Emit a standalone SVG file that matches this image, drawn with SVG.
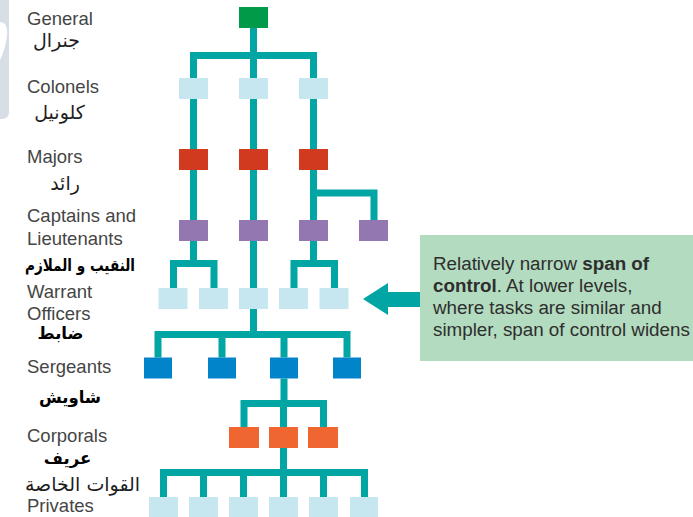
<svg xmlns="http://www.w3.org/2000/svg" width="693" height="517" viewBox="0 0 693 517">
  <style>
    .lbl { font-family: "Liberation Sans", Arial, sans-serif; font-size: 18.5px; fill: #454545; }
    .ar { font-family: "DejaVu Sans", "Noto Sans", sans-serif; font-size: 19px; fill: #1e1e1e; text-anchor: middle; }
    .arb { font-family: "DejaVu Sans", "Noto Sans", sans-serif; font-size: 16.5px; font-weight: bold; fill: #000; text-anchor: middle; }
    .conn { fill: none; stroke: #00a5a4; stroke-width: 7; stroke-linejoin: miter; stroke-linecap: butt; }
    .gen { fill: #009a48; }
    .pale { fill: #c6e7ef; }
    .major { fill: #d23a1f; }
    .capt { fill: #9377b1; }
    .serg { fill: #0284cb; }
    .corp { fill: #ef6630; }
    .note { font-family: "Liberation Sans", Arial, sans-serif; font-size: 18.8px; fill: #2e2e2e; }
  </style>

  <rect width="693" height="517" fill="#ffffff"/>

  <!-- page-edge decoration -->
  <path d="M0,0 H9 V112 Q9,119 2,119 H0 Z" fill="#d8dee5"/>
  <path d="M0,22 Q8,22 7,36 Q5,50 0,60 Z" fill="#ffffff"/>

  <!-- rank labels -->
  <g id="labels">
    <text class="lbl" x="27" y="25">General</text>
    <text class="ar" x="56.5" y="47">جنرال</text>
    <text class="lbl" x="27" y="93">Colonels</text>
    <text class="ar" x="59.5" y="119">كلونيل</text>
    <text class="lbl" x="27" y="163">Majors</text>
    <text class="ar" x="65" y="190">رائد</text>
    <text class="lbl" x="27" y="222">Captains and</text>
    <text class="lbl" x="27" y="245">Lieutenants</text>
    <text class="arb" x="80" y="271" textLength="110" lengthAdjust="spacingAndGlyphs">النقيب و الملازم</text>
    <text class="lbl" x="27" y="298">Warrant</text>
    <text class="lbl" x="27" y="320">Officers</text>
    <text class="arb" x="60.5" y="339">ضابط</text>
    <text class="lbl" x="27" y="373">Sergeants</text>
    <text class="arb" x="70" y="403">شاويش</text>
    <text class="lbl" x="27" y="442">Corporals</text>
    <text class="arb" x="67.5" y="464">عريف</text>
    <text class="ar" x="82.5" y="491">القوات الخاصة</text>
    <text class="lbl" x="27" y="512">Privates</text>
  </g>

  <!-- connectors -->
  <g id="connectors">
    <path class="conn" d="M253.5,28 V78"/>
    <path class="conn" d="M193.5,78 V55.5 H313.5 V78"/>
    <path class="conn" d="M193.5,99 V149 M253.5,99 V149 M313.5,99 V149"/>
    <path class="conn" d="M193.5,170 V220 M253.5,170 V220 M313.5,170 V220"/>
    <path class="conn" d="M313.5,193 H374 V220"/>
    <path class="conn" d="M193.5,241 V263.5 M253.5,241 V288 M313.5,241 V263.5"/>
    <path class="conn" d="M173.5,288 V263.5 H214 V288"/>
    <path class="conn" d="M294,288 V263.5 H334.5 V288"/>
    <path class="conn" d="M253.5,309 V334.5"/>
    <path class="conn" d="M158,357.5 V334.5 H347 V357.5 M222,334.5 V357.5 M284,334.5 V357.5"/>
    <path class="conn" d="M284,378.5 V403.5"/>
    <path class="conn" d="M244,427 V403.5 H323.5 V427 M283.5,403.5 V427"/>
    <path class="conn" d="M283.5,448 V472.5"/>
    <path class="conn" d="M163.5,497 V472.5 H364.5 V497 M203.5,472.5 V497 M243.5,472.5 V497 M283.5,472.5 V497 M323.5,472.5 V497"/>
  </g>

  <!-- rank boxes -->
  <g id="general"><rect class="gen" x="239" y="7" width="29" height="21"/></g>
  <g id="colonels">
    <rect class="pale" x="179" y="78" width="29" height="21"/>
    <rect class="pale" x="239" y="78" width="29" height="21"/>
    <rect class="pale" x="299" y="78" width="29" height="21"/>
  </g>
  <g id="majors">
    <rect class="major" x="179" y="149" width="29" height="21"/>
    <rect class="major" x="239" y="149" width="29" height="21"/>
    <rect class="major" x="299" y="149" width="29" height="21"/>
  </g>
  <g id="captains">
    <rect class="capt" x="179" y="220" width="29" height="21"/>
    <rect class="capt" x="239" y="220" width="29" height="21"/>
    <rect class="capt" x="299" y="220" width="29" height="21"/>
    <rect class="capt" x="359" y="220" width="29" height="21"/>
  </g>
  <g id="warrant-officers">
    <rect class="pale" x="158.5" y="288" width="29" height="21"/>
    <rect class="pale" x="199" y="288" width="29" height="21"/>
    <rect class="pale" x="239" y="288" width="29" height="21"/>
    <rect class="pale" x="279" y="288" width="29" height="21"/>
    <rect class="pale" x="319.5" y="288" width="29" height="21"/>
  </g>
  <g id="sergeants">
    <rect class="serg" x="144" y="357.5" width="28" height="21"/>
    <rect class="serg" x="208" y="357.5" width="28" height="21"/>
    <rect class="serg" x="270" y="357.5" width="28" height="21"/>
    <rect class="serg" x="333" y="357.5" width="28" height="21"/>
  </g>
  <g id="corporals">
    <rect class="corp" x="229" y="427" width="30" height="21"/>
    <rect class="corp" x="269" y="427" width="29" height="21"/>
    <rect class="corp" x="308" y="427" width="30" height="21"/>
  </g>
  <g id="privates">
    <rect class="pale" x="149" y="497" width="29" height="20"/>
    <rect class="pale" x="189" y="497" width="29" height="20"/>
    <rect class="pale" x="229" y="497" width="29" height="20"/>
    <rect class="pale" x="269" y="497" width="29" height="20"/>
    <rect class="pale" x="309" y="497" width="29" height="20"/>
    <rect class="pale" x="350" y="497" width="28" height="20"/>
  </g>

  <!-- span-of-control note -->
  <g id="note">
    <rect x="420" y="235" width="273" height="126" fill="#b3dbbf"/>
    <polygon points="363,299 388,283 388,292 420,292 420,307 388,307 388,315" fill="#00a5a4"/>
    <text class="note" x="433" y="270">Relatively narrow <tspan font-weight="bold">span of</tspan></text>
    <text class="note" x="433" y="292"><tspan font-weight="bold">control</tspan>. At lower levels,</text>
    <text class="note" x="433" y="314">where tasks are similar and</text>
    <text class="note" x="433" y="336">simpler, span of control widens</text>
  </g>
</svg>
